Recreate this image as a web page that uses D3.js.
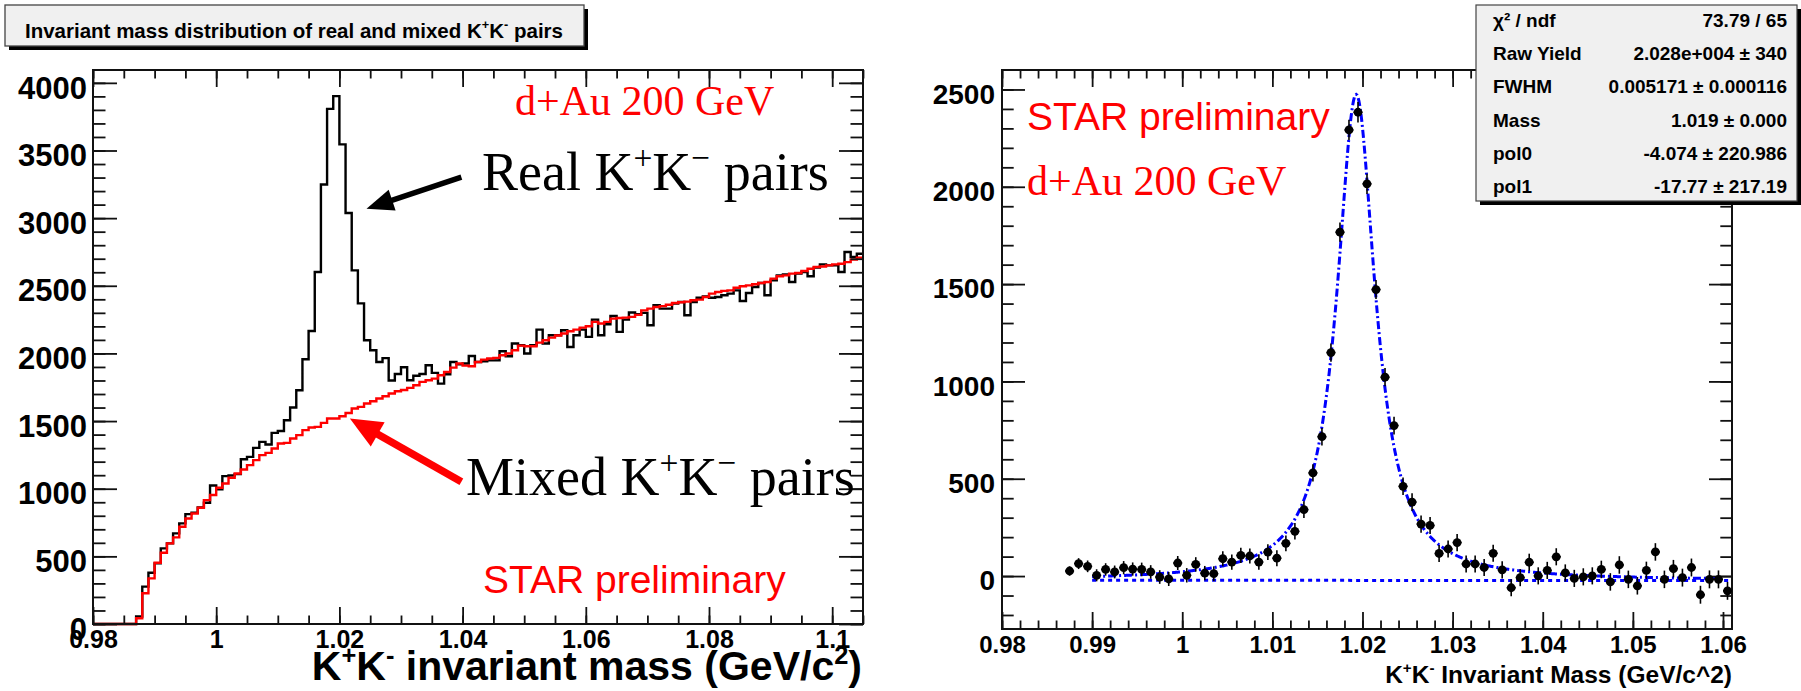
<!DOCTYPE html>
<html><head><meta charset="utf-8">
<script src="https://cdn.jsdelivr.net/npm/d3@7"></script>
<style>body{margin:0;background:#fff}svg{display:block}text{white-space:pre}</style>
</head><body>
<svg id="c" width="1801" height="691"></svg>
<script>
// ---------------- DATA ----------------
// Left panel: histograms, 0.001 GeV bins starting at 0.980
const histStart = 0.98;
const histBinWidth = 0.001;
const realPairs = [
 0,0,0,0,0,0,0,
 55,276,379,448,559,596,670,744,812,822,862,896,1024,
 995,1093,1098,1108,1218,1235,1302,1346,1327,1413,
 1427,1506,1600,1728,1957,2166,2602,3249,3808,3902,
 3545,3038,2614,2370,2097,2023,1937,1965,1800,1848,
 1898,1802,1835,1848,1913,1856,1777,1846,1937,1920,
 1925,1981,1937,1942,1949,1949,2016,1979,2073,2060,
 1999,2060,2176,2073,2134,2134,2171,2048,2134,2176,
 2122,2250,2134,2216,2277,2159,2250,2302,2290,2300,
 2208,2356,2331,2331,2368,2380,2282,2380,2412,2422,
 2412,2417,2430,2442,2466,2388,2447,2491,2521,2430,
 2540,2577,2584,2528,2590,2602,2570,2634,2658,2651,
 2651,2602,2750,2713,2737
];
const mixedPairs = [
 0,0,0,0,0,0,0,
 42,227,337,453,527,596,640,719,780,817,859,916,953,
 1007,1039,1081,1113,1142,1174,1211,1248,1265,1297,
 1334,1339,1371,1396,1433,1453,1457,1487,1519,1519,
 1536,1560,1593,1605,1630,1647,1667,1684,1704,1720,
 1730,1745,1765,1790,1802,1814,1839,1863,1895,1925,
 1910,1905,1937,1954,1962,1967,1986,1999,2023,2058,
 2053,2053,2080,2097,2117,2132,2147,2164,2176,2191,
 2201,2233,2221,2233,2257,2262,2265,2270,2285,2318,
 2331,2343,2350,2360,2373,2378,2383,2393,2398,2417,
 2442,2454,2462,2466,2486,2496,2503,2511,2521,2528,
 2553,2570,2577,2590,2594,2609,2626,2639,2643,2651,
 2658,2663,2675,2693,2708
];
const leftXTicks = [0.98, 1.0, 1.02, 1.04, 1.06, 1.08, 1.1];
const leftXTickLabels = ["0.98", "1", "1.02", "1.04", "1.06", "1.08", "1.1"];
const leftYTicks = [0, 500, 1000, 1500, 2000, 2500, 3000, 3500, 4000];
const leftYTickLabels = ["0", "500", "1000", "1500", "2000", "2500", "3000", "3500", "4000"];

// Right panel: background-subtracted K+K- pairs
const signalMass = [
 0.9875,0.9885,0.9895,0.9905,0.9915,0.9925,0.9935,0.9945,0.9955,0.9965,
 0.9975,0.9985,0.9995,1.0005,1.0015,1.0025,1.0035,1.0045,1.0055,1.0065,
 1.0075,1.0085,1.0095,1.0105,1.0115,1.0125,1.0135,1.0145,1.0155,1.0165,
 1.0175,1.0185,1.0195,1.0205,1.0215,1.0225,1.0235,1.0245,1.0255,1.0265,
 1.0275,1.0285,1.0295,1.0305,1.0315,1.0325,1.0335,1.0345,1.0355,1.0365,
 1.0375,1.0385,1.0395,1.0405,1.0415,1.0425,1.0435,1.0445,1.0455,1.0465,
 1.0475,1.0485,1.0495,1.0505,1.0515,1.0525,1.0535,1.0545,1.0555,1.0565,
 1.0575,1.0585,1.0595,1.0605
];
const signalCounts = [
 26,64,50,4,34,21,43,36,34,21,
 -5,-15,67,4,60,15,12,89,72,106,
 103,72,123,92,168,230,341,530,716,1148,
 1767,2292,2383,2015,1472,1022,773,461,380,267,
 260,116,139,172,62,62,44,117,32,-60,
 -8,71,1,29,99,16,-12,-4,1,34,
 -30,57,-17,-50,29,124,-17,38,-8,44,
 -96,-17,-17,-76
];
const signalErrors = [
 24,28,30,31,32,33,34,34,35,35,
 35,36,36,37,37,37,38,38,39,39,
 39,40,40,41,41,42,43,44,45,47,
 50,52,53,52,49,47,46,45,45,44,
 44,44,44,44,44,44,44,44,44,44,
 44,44,44,44,44,44,44,44,44,45,
 45,45,45,45,45,45,45,45,46,46,
 46,46,46,46
];
const rightXTicks = [0.98, 0.99, 1.0, 1.01, 1.02, 1.03, 1.04, 1.05, 1.06];
const rightXTickLabels = ["0.98", "0.99", "1", "1.01", "1.02", "1.03", "1.04", "1.05", "1.06"];
const rightYTicks = [0, 500, 1000, 1500, 2000, 2500];
const rightYTickLabels = ["0", "500", "1000", "1500", "2000", "2500"];

// Fit (Breit-Wigner + pol1) parameters, as shown in the stats box
const fitRange = [0.99, 1.06];
const fitYield = 20280, fitFWHM = 0.005171, fitMass = 1.0193, fitPol0 = -4.074, fitPol1 = -17.77;
const statsLabels = ["χ² / ndf", "Raw Yield", "FWHM", "Mass", "pol0", "pol1"];
const statsValues = ["73.79 / 65", "2.028e+004 ± 340", "0.005171 ± 0.000116", "1.019 ± 0.000", "-4.074 ± 220.986", "-17.77 ± 217.19"];

// ---------------- DRAWING ----------------
const svg = d3.select("#c");
const SANS = "'Liberation Sans', Arial, Helvetica, sans-serif";
const SERIF = "'Liberation Serif', 'Times New Roman', serif";

function rich(g, x, y, parts, o) {
  const t = g.append("text").attr("x", x).attr("y", y)
    .attr("font-family", o.family).attr("font-size", o.size)
    .attr("font-weight", o.weight || "normal").attr("fill", o.fill || "#000")
    .attr("text-anchor", o.anchor || "start");
  let raised = false;
  const shift = o.size * (o.supShift || 0.42);
  parts.forEach(p => {
    const sup = Array.isArray(p);
    const ts = t.append("tspan").text(sup ? p[0] : p);
    if (sup) {
      ts.attr("font-size", o.size * (o.supScale || 0.62));
      if (!raised) ts.attr("dy", -shift);
      raised = true;
    } else {
      if (raised) ts.attr("dy", shift);
      raised = false;
    }
  });
  return t;
}

function frameAxes(g, x, y, c) {
  const [x0, x1] = x.range();
  const [yb, yt] = y.range();
  const col = "#111";
  const style = sel => {
    sel.select(".domain").remove();
    sel.selectAll("line").attr("stroke", col).attr("stroke-width", 1.8);
  };
  // bottom
  g.append("g").attr("transform", `translate(0,${yb})`)
    .call(d3.axisBottom(x).tickValues(c.xMinor).tickSize(-c.xMinorLen).tickFormat(""))
    .call(style);
  const bx = g.append("g").attr("transform", `translate(0,${yb})`)
    .call(d3.axisBottom(x).tickValues(c.xMajor).tickSize(-c.xMajorLen).tickPadding(c.xPad)
      .tickFormat((d, i) => c.xLabels[i]))
    .call(style);
  bx.selectAll("text").attr("font-family", SANS).attr("font-weight", "bold")
    .attr("font-size", c.xFont).attr("fill", "#000");
  // top
  g.append("g").attr("transform", `translate(0,${yt})`)
    .call(d3.axisTop(x).tickValues(c.xMinor).tickSize(-c.xMinorLen).tickFormat(""))
    .call(style);
  g.append("g").attr("transform", `translate(0,${yt})`)
    .call(d3.axisTop(x).tickValues(c.xMajor).tickSize(-c.xMajorLen).tickFormat(""))
    .call(style);
  // left
  g.append("g").attr("transform", `translate(${x0},0)`)
    .call(d3.axisLeft(y).tickValues(c.yMinor).tickSize(-c.yMinorLen).tickFormat(""))
    .call(style);
  const ly = g.append("g").attr("transform", `translate(${x0},0)`)
    .call(d3.axisLeft(y).tickValues(c.yMajor).tickSize(-c.yMajorLen).tickPadding(c.yPad)
      .tickFormat((d, i) => c.yLabels[i]))
    .call(style);
  ly.selectAll("text").attr("font-family", SANS).attr("font-weight", "bold")
    .attr("font-size", c.yFont).attr("fill", "#000").attr("dy", "0.49em");
  // right
  g.append("g").attr("transform", `translate(${x1},0)`)
    .call(d3.axisRight(y).tickValues(c.yMinor).tickSize(-c.yMinorLen).tickFormat(""))
    .call(style);
  g.append("g").attr("transform", `translate(${x1},0)`)
    .call(d3.axisRight(y).tickValues(c.yMajor).tickSize(-c.yMajorLen).tickFormat(""))
    .call(style);
  // frame
  g.append("rect").attr("x", x0).attr("y", yt).attr("width", x1 - x0).attr("height", yb - yt)
    .attr("fill", "none").attr("stroke", col).attr("stroke-width", 2);
}

function arrow(g, x1, y1, x2, y2, color, lw, headLen, headHalf) {
  const dx = x2 - x1, dy = y2 - y1, L = Math.hypot(dx, dy);
  const ux = dx / L, uy = dy / L;
  const bx = x2 - ux * headLen, by = y2 - uy * headLen;
  g.append("line").attr("x1", x1).attr("y1", y1).attr("x2", bx + ux * 2).attr("y2", by + uy * 2)
    .attr("stroke", color).attr("stroke-width", lw);
  g.append("polygon").attr("fill", color)
    .attr("points", [[x2, y2], [bx - uy * headHalf, by + ux * headHalf], [bx + uy * headHalf, by - ux * headHalf]]
      .map(p => p.join(",")).join(" "));
}

// ---------- LEFT PANEL ----------
const gL = svg.append("g");
const xL = d3.scaleLinear().domain([0.98, 1.105]).range([93, 863]);
const yL = d3.scaleLinear().domain([0, 4095]).range([624, 70]);

const histPts = vals => {
  const pts = vals.map((v, i) => [histStart + i * histBinWidth, v]);
  pts.push([histStart + vals.length * histBinWidth, vals[vals.length - 1]]);
  return pts;
};
const stepLine = d3.line().x(d => xL(d[0])).y(d => yL(d[1])).curve(d3.curveStepAfter);
gL.append("path").attr("d", stepLine(histPts(realPairs))).attr("fill", "none")
  .attr("stroke", "#000").attr("stroke-width", 2.4);
gL.append("path").attr("d", stepLine(histPts(mixedPairs))).attr("fill", "none")
  .attr("stroke", "#ff0000").attr("stroke-width", 2.4);

frameAxes(gL, xL, yL, {
  xMajor: leftXTicks, xLabels: leftXTickLabels,
  xMinor: d3.range(0, 26).map(i => 0.98 + i * 0.005),
  xMajorLen: 17, xMinorLen: 8.5, xPad: 6, xFont: 25,
  yMajor: leftYTicks, yLabels: leftYTickLabels,
  yMinor: d3.range(0, 41).map(i => i * 100),
  yMajorLen: 24, yMinorLen: 12.5, yPad: 6, yFont: 31
});

// annotations (left)
arrow(gL, xL(1.0398), yL(3303), xL(1.0244), yL(3070), "#000", 5.5, 27, 11);
arrow(gL, xL(1.0398), yL(1051), xL(1.0217), yL(1519), "#ff0000", 7.5, 32, 14);
rich(gL, 515, 115, ["d+Au 200 GeV"], {family: SERIF, size: 42, fill: "#ff0000"});
rich(gL, 482, 190, ["Real K", ["+"], "K", ["−"], " pairs"], {family: SERIF, size: 54, supScale: 0.62, supShift: 0.38});
rich(gL, 466, 495, ["Mixed K", ["+"], "K", ["−"], " pairs"], {family: SERIF, size: 54, supScale: 0.62, supShift: 0.38});
rich(gL, 483, 593, ["STAR preliminary"], {family: SANS, size: 39, fill: "#ff0000"});
rich(gL, 862, 680, ["K", ["+"], "K", ["-"], " invariant mass (GeV/c", ["2"], ")"],
  {family: SANS, size: 41, weight: "bold", anchor: "end", supShift: 0.4});

// title box
svg.append("rect").attr("x", 9).attr("y", 9).attr("width", 579).attr("height", 41).attr("fill", "#000");
svg.append("rect").attr("x", 5).attr("y", 5).attr("width", 579).attr("height", 41)
  .attr("fill", "#f0f0f0").attr("stroke", "#444").attr("stroke-width", 1.3);
rich(svg, 25, 38, ["Invariant mass distribution of real and mixed K", ["+"], "K", ["-"], " pairs"],
  {family: SANS, size: 20.5, weight: "bold"});

// ---------- RIGHT PANEL ----------
const gR = svg.append("g");
const xR = d3.scaleLinear().domain([0.98, 1.061]).range([1002, 1732]);
const yR = d3.scaleLinear().domain([-272, 2600]).range([629, 70]);

frameAxes(gR, xR, yR, {
  xMajor: rightXTicks, xLabels: rightXTickLabels,
  xMinor: d3.range(0, 41).map(i => 0.98 + i * 0.002),
  xMajorLen: 17, xMinorLen: 8.5, xPad: 7, xFont: 24,
  yMajor: rightYTicks, yLabels: rightYTickLabels,
  yMinor: d3.range(-2, 26).map(i => i * 100),
  yMajorLen: 23, yMinorLen: 11.7, yPad: 7, yFont: 28
});

// fit curves
const bg = m => fitPol0 + fitPol1 * m;
const bw = m => fitYield * histBinWidth / (2 * Math.PI) * fitFWHM / ((m - fitMass) ** 2 + fitFWHM * fitFWHM / 4);
const fitX = d3.range(0, 701).map(i => fitRange[0] + i * (fitRange[1] - fitRange[0]) / 700);
gR.append("path").attr("d", d3.line().x(d => xR(d)).y(d => yR(bg(d)))([fitRange[0], xR.domain()[1]]))
  .attr("fill", "none").attr("stroke", "#0000ff").attr("stroke-width", 3).attr("stroke-dasharray", "4,4");
gR.append("path").attr("d", d3.line().x(d => xR(d)).y(d => yR(bw(d) + bg(d)))(fitX))
  .attr("fill", "none").attr("stroke", "#0000ff").attr("stroke-width", 3).attr("stroke-dasharray", "8,3,2,3");

// data points
const pts = gR.append("g");
signalMass.forEach((m, i) => {
  const cx = xR(m), cy = yR(signalCounts[i]);
  pts.append("line").attr("x1", cx).attr("x2", cx)
    .attr("y1", yR(signalCounts[i] - signalErrors[i])).attr("y2", yR(signalCounts[i] + signalErrors[i]))
    .attr("stroke", "#000").attr("stroke-width", 1.6);
  pts.append("line").attr("x1", xR(m - histBinWidth / 2)).attr("x2", xR(m + histBinWidth / 2))
    .attr("y1", cy).attr("y2", cy).attr("stroke", "#000").attr("stroke-width", 1.6);
  pts.append("circle").attr("cx", cx).attr("cy", cy).attr("r", 4.4).attr("fill", "#000");
});

rich(gR, 1027, 130, ["STAR preliminary"], {family: SANS, size: 39, fill: "#ff0000"});
rich(gR, 1027, 195, ["d+Au 200 GeV"], {family: SERIF, size: 42, fill: "#ff0000"});
rich(gR, 1732, 683, ["K", ["+"], "K", ["-"], " Invariant Mass (GeV/c^2)"],
  {family: SANS, size: 24.5, weight: "bold", anchor: "end", supShift: 0.4});

// stats box
svg.append("rect").attr("x", 1480).attr("y", 9).attr("width", 321).attr("height", 196).attr("fill", "#000");
svg.append("rect").attr("x", 1476).attr("y", 5).attr("width", 321).attr("height", 196)
  .attr("fill", "#f0f0f0").attr("stroke", "#444").attr("stroke-width", 1.2);
statsLabels.forEach((lab, i) => {
  const yy = 27 + i * 33.2;
  svg.append("text").attr("x", 1493).attr("y", yy).text(lab)
    .attr("font-family", SANS).attr("font-weight", "bold").attr("font-size", 19);
  svg.append("text").attr("x", 1787).attr("y", yy).text(statsValues[i]).attr("text-anchor", "end")
    .attr("font-family", SANS).attr("font-weight", "bold").attr("font-size", 19);
});
</script>
</body></html>
